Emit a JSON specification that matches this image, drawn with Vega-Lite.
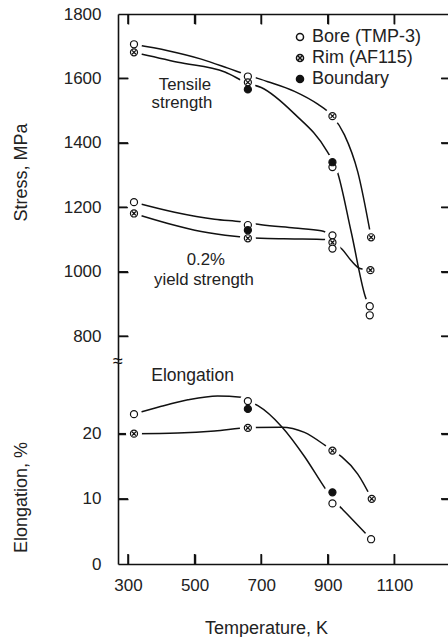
{
  "$schema": "https://vega.github.io/schema/vega-lite/v6.json",
  "padding": {"left": 11, "top": 5, "right": 0, "bottom": 0},
  "spacing": 0,
  "bounds": "flush",
  "config": {
    "font": "Liberation Sans",
    "view": {"stroke": null},
    "axis": {
      "grid": false,
      "domainColor": "#111",
      "domainWidth": 1.6,
      "tickColor": "#111",
      "tickWidth": 0,
      "tickSize": 0,
      "labelFont": "Liberation Sans",
      "labelFontSize": 17,
      "labelColor": "#222",
      "titleFont": "Liberation Sans",
      "titleFontSize": 18,
      "titleFontWeight": "normal",
      "titleColor": "#222"
    },
    "legend": {
      "labelFont": "Liberation Sans",
      "labelFontSize": 18,
      "labelColor": "#222",
      "symbolSize": 50,
      "rowPadding": 3,
      "labelOffset": 3,
      "padding": 0
    }
  },
  "datasets": {
    "ticks": [
      {"panel": "top", "edge": "top", "val": 300},
      {"panel": "top", "edge": "top", "val": 500},
      {"panel": "top", "edge": "top", "val": 700},
      {"panel": "top", "edge": "top", "val": 900},
      {"panel": "top", "edge": "top", "val": 1100},
      {"panel": "top", "edge": "side", "val": 800},
      {"panel": "top", "edge": "side", "val": 1000},
      {"panel": "top", "edge": "side", "val": 1200},
      {"panel": "top", "edge": "side", "val": 1400},
      {"panel": "top", "edge": "side", "val": 1600},
      {"panel": "bottom", "edge": "bottom", "val": 300},
      {"panel": "bottom", "edge": "bottom", "val": 500},
      {"panel": "bottom", "edge": "bottom", "val": 700},
      {"panel": "bottom", "edge": "bottom", "val": 900},
      {"panel": "bottom", "edge": "bottom", "val": 1100},
      {"panel": "bottom", "edge": "side", "val": 10},
      {"panel": "bottom", "edge": "side", "val": 20}
    ],
    "pts": [
      {"prop": "tensile", "mat": "Bore (TMP-3)", "T": 318, "v": 1706},
      {"prop": "tensile", "mat": "Rim (AF115)", "T": 318, "v": 1681},
      {"prop": "tensile", "mat": "Bore (TMP-3)", "T": 660, "v": 1606},
      {"prop": "tensile", "mat": "Rim (AF115)", "T": 660, "v": 1588},
      {"prop": "tensile", "mat": "Boundary", "T": 660, "v": 1566},
      {"prop": "tensile", "mat": "Rim (AF115)", "T": 914, "v": 1483},
      {"prop": "tensile", "mat": "Bore (TMP-3)", "T": 914, "v": 1325},
      {"prop": "tensile", "mat": "Boundary", "T": 914, "v": 1340},
      {"prop": "tensile", "mat": "Rim (AF115)", "T": 1030, "v": 1107},
      {"prop": "tensile", "mat": "Bore (TMP-3)", "T": 1026, "v": 893},
      {"prop": "yield", "mat": "Bore (TMP-3)", "T": 318, "v": 1216},
      {"prop": "yield", "mat": "Rim (AF115)", "T": 318, "v": 1181},
      {"prop": "yield", "mat": "Bore (TMP-3)", "T": 660, "v": 1145},
      {"prop": "yield", "mat": "Boundary", "T": 660, "v": 1129},
      {"prop": "yield", "mat": "Rim (AF115)", "T": 660, "v": 1104},
      {"prop": "yield", "mat": "Bore (TMP-3)", "T": 914, "v": 1113},
      {"prop": "yield", "mat": "Rim (AF115)", "T": 914, "v": 1091},
      {"prop": "yield", "mat": "Bore (TMP-3)", "T": 914, "v": 1072},
      {"prop": "yield", "mat": "Rim (AF115)", "T": 1028, "v": 1005},
      {"prop": "yield", "mat": "Bore (TMP-3)", "T": 1026, "v": 865},
      {"prop": "elong", "mat": "Bore (TMP-3)", "T": 318, "v": 23.0},
      {"prop": "elong", "mat": "Rim (AF115)", "T": 318, "v": 20.0},
      {"prop": "elong", "mat": "Bore (TMP-3)", "T": 660, "v": 25.0},
      {"prop": "elong", "mat": "Boundary", "T": 660, "v": 23.8},
      {"prop": "elong", "mat": "Rim (AF115)", "T": 660, "v": 20.9},
      {"prop": "elong", "mat": "Rim (AF115)", "T": 914, "v": 17.4},
      {"prop": "elong", "mat": "Boundary", "T": 914, "v": 11.0},
      {"prop": "elong", "mat": "Bore (TMP-3)", "T": 914, "v": 9.3},
      {"prop": "elong", "mat": "Rim (AF115)", "T": 1032, "v": 10.0},
      {"prop": "elong", "mat": "Bore (TMP-3)", "T": 1030, "v": 3.8}
    ],
    "curves": [
      {"prop": "tensile", "curve": "tu", "T": 318, "v": 1706},
      {"prop": "tensile", "curve": "tu", "T": 420, "v": 1686},
      {"prop": "tensile", "curve": "tu", "T": 520, "v": 1660},
      {"prop": "tensile", "curve": "tu", "T": 600, "v": 1632},
      {"prop": "tensile", "curve": "tu", "T": 660, "v": 1610},
      {"prop": "tensile", "curve": "tu", "T": 720, "v": 1590},
      {"prop": "tensile", "curve": "tu", "T": 800, "v": 1560},
      {"prop": "tensile", "curve": "tu", "T": 870, "v": 1520},
      {"prop": "tensile", "curve": "tu", "T": 914, "v": 1483},
      {"prop": "tensile", "curve": "tu", "T": 950, "v": 1425},
      {"prop": "tensile", "curve": "tu", "T": 990, "v": 1310},
      {"prop": "tensile", "curve": "tu", "T": 1030, "v": 1107},
      {"prop": "tensile", "curve": "tl", "T": 318, "v": 1681},
      {"prop": "tensile", "curve": "tl", "T": 450, "v": 1650},
      {"prop": "tensile", "curve": "tl", "T": 591, "v": 1620},
      {"prop": "tensile", "curve": "tl", "T": 660, "v": 1585},
      {"prop": "tensile", "curve": "tl", "T": 700, "v": 1572},
      {"prop": "tensile", "curve": "tl", "T": 800, "v": 1490},
      {"prop": "tensile", "curve": "tl", "T": 897, "v": 1375},
      {"prop": "tensile", "curve": "tl", "T": 928, "v": 1313},
      {"prop": "tensile", "curve": "tl", "T": 970, "v": 1125},
      {"prop": "tensile", "curve": "tl", "T": 1012, "v": 925},
      {"prop": "tensile", "curve": "tl", "T": 1028, "v": 880},
      {"prop": "yield", "curve": "yu", "T": 318, "v": 1216},
      {"prop": "yield", "curve": "yu", "T": 440, "v": 1185},
      {"prop": "yield", "curve": "yu", "T": 560, "v": 1163},
      {"prop": "yield", "curve": "yu", "T": 640, "v": 1155},
      {"prop": "yield", "curve": "yu", "T": 700, "v": 1146},
      {"prop": "yield", "curve": "yu", "T": 800, "v": 1136},
      {"prop": "yield", "curve": "yu", "T": 880, "v": 1127},
      {"prop": "yield", "curve": "yu", "T": 914, "v": 1113},
      {"prop": "yield", "curve": "yl", "T": 318, "v": 1181},
      {"prop": "yield", "curve": "yl", "T": 420, "v": 1150},
      {"prop": "yield", "curve": "yl", "T": 520, "v": 1125},
      {"prop": "yield", "curve": "yl", "T": 620, "v": 1110},
      {"prop": "yield", "curve": "yl", "T": 660, "v": 1106},
      {"prop": "yield", "curve": "yl", "T": 720, "v": 1103},
      {"prop": "yield", "curve": "yl", "T": 800, "v": 1102},
      {"prop": "yield", "curve": "yl", "T": 898, "v": 1100},
      {"prop": "yield", "curve": "yl", "T": 914, "v": 1092},
      {"prop": "yield", "curve": "yl", "T": 943, "v": 1070},
      {"prop": "yield", "curve": "yl", "T": 970, "v": 1035},
      {"prop": "yield", "curve": "yl", "T": 997, "v": 1010},
      {"prop": "yield", "curve": "yl", "T": 1030, "v": 1005},
      {"prop": "elong", "curve": "eb", "T": 318, "v": 23.0},
      {"prop": "elong", "curve": "eb", "T": 400, "v": 24.2},
      {"prop": "elong", "curve": "eb", "T": 480, "v": 25.2},
      {"prop": "elong", "curve": "eb", "T": 569, "v": 25.8},
      {"prop": "elong", "curve": "eb", "T": 640, "v": 25.6},
      {"prop": "elong", "curve": "eb", "T": 660, "v": 25.0},
      {"prop": "elong", "curve": "eb", "T": 690, "v": 24.3},
      {"prop": "elong", "curve": "eb", "T": 763, "v": 21.0},
      {"prop": "elong", "curve": "eb", "T": 830, "v": 16.5},
      {"prop": "elong", "curve": "eb", "T": 892, "v": 11.6},
      {"prop": "elong", "curve": "eb", "T": 914, "v": 10.0},
      {"prop": "elong", "curve": "eb", "T": 946, "v": 8.3},
      {"prop": "elong", "curve": "eb", "T": 1006, "v": 5.1},
      {"prop": "elong", "curve": "eb", "T": 1030, "v": 3.8},
      {"prop": "elong", "curve": "er", "T": 318, "v": 20.0},
      {"prop": "elong", "curve": "er", "T": 450, "v": 20.1},
      {"prop": "elong", "curve": "er", "T": 560, "v": 20.4},
      {"prop": "elong", "curve": "er", "T": 660, "v": 20.9},
      {"prop": "elong", "curve": "er", "T": 760, "v": 21.0},
      {"prop": "elong", "curve": "er", "T": 830, "v": 20.2},
      {"prop": "elong", "curve": "er", "T": 892, "v": 18.2},
      {"prop": "elong", "curve": "er", "T": 914, "v": 17.4},
      {"prop": "elong", "curve": "er", "T": 943, "v": 16.4},
      {"prop": "elong", "curve": "er", "T": 990, "v": 13.8},
      {"prop": "elong", "curve": "er", "T": 1032, "v": 10.0}
    ],
    "notes": [
      {"panel": "top", "t": "Tensile", "T": 471, "v": 1564},
      {"panel": "top", "t": "strength", "T": 462, "v": 1508},
      {"panel": "top", "t": "0.2%", "T": 534, "v": 1020},
      {"panel": "top", "t": "yield strength", "T": 528, "v": 958},
      {"panel": "bottom", "t": "Elongation", "T": 494, "v": 28.1}
    ]
  },
  "resolve": {
    "scale": {"y": "independent", "shape": "independent", "fill": "independent"},
    "legend": {"shape": "independent", "fill": "independent"}
  },
  "vconcat": [
    {
      "width": 333,
      "height": 348,
      "resolve": {"axis": {"x": "independent", "y": "independent"}},
      "layer": [
        {
          "data": {"name": "curves"},
          "transform": [{"filter": "datum.prop !== 'elong'"}],
          "mark": {"type": "line", "interpolate": "monotone", "stroke": "#111", "strokeWidth": 1.5},
          "encoding": {
            "x": {"field": "T", "type": "quantitative", "scale": {"domain": [270, 1270], "nice": false, "zero": false},
                  "axis": {"orient": "top", "labels": false, "ticks": false, "title": null}},
            "y": {"field": "v", "type": "quantitative", "scale": {"domain": [720, 1800], "nice": false, "zero": false},
                  "axis": {"orient": "left", "values": [800, 1000, 1200, 1400, 1600, 1800], "format": "d", "labelPadding": 17,
                           "title": "Stress, MPa", "titleX": -92, "titleY": 158, "titleAngle": -90,
                           "titleBaseline": "alphabetic", "titleAlign": "center"}},
            "detail": {"field": "curve", "type": "nominal"}
          }
        },
        {
          "data": {"name": "ticks"},
          "transform": [{"filter": "datum.panel === 'top' && datum.edge === 'top'"}],
          "mark": {"type": "rule", "color": "#111", "strokeWidth": 1.5, "y2Offset": 10},
          "encoding": {
            "x": {"field": "val", "type": "quantitative", "axis": null},
            "y": {"datum": 1800, "type": "quantitative", "axis": null},
            "y2": {"datum": 1800}
          }
        },
        {
          "data": {"name": "ticks"},
          "transform": [{"filter": "datum.panel === 'top' && datum.edge === 'side'"}],
          "mark": {"type": "rule", "color": "#111", "strokeWidth": 1.5, "x2Offset": 10},
          "encoding": {
            "y": {"field": "val", "type": "quantitative", "axis": null},
            "x": {"datum": 270, "type": "quantitative", "axis": null},
            "x2": {"datum": 270}
          }
        },
        {
          "data": {"name": "ticks"},
          "transform": [{"filter": "datum.panel === 'top' && datum.edge === 'side'"}],
          "mark": {"type": "rule", "color": "#111", "strokeWidth": 1.5, "x2Offset": -10},
          "encoding": {
            "y": {"field": "val", "type": "quantitative", "axis": null},
            "x": {"datum": 1270, "type": "quantitative", "axis": null},
            "x2": {"datum": 1270}
          }
        },
        {
          "data": {"name": "pts"},
          "transform": [{"filter": "datum.prop !== 'elong'"}],
          "mark": {"type": "point", "shape": "M-1,0A1,1,0,1,1,1,0A1,1,0,1,1,-1,0Z", "filled": true, "fill": "white", "opacity": 1, "size": 256, "strokeWidth": 0},
          "encoding": {
            "x": {"field": "T", "type": "quantitative",
                  "axis": {"orient": "top", "offset": -10, "domain": false, "labelExpr": "''", "labelFontSize": 1, "labelPadding": -22, "title": null,
                           "ticks": true, "tickSize": 10, "tickWidth": 1.5, "values": [300, 500, 700, 900, 1100]}},
            "y": {"field": "v", "type": "quantitative",
                  "axis": {"orient": "right", "offset": -10, "domain": false, "labelExpr": "''", "labelFontSize": 1, "labelPadding": -22, "title": null,
                           "ticks": true, "tickSize": 10, "tickWidth": 1.5, "values": [800, 1000, 1200, 1400, 1600]}}
          }
        },
        {
          "data": {"name": "pts"},
          "transform": [{"filter": "datum.prop !== 'elong'"}],
          "mark": {"type": "point", "filled": true, "opacity": 1, "size": 50, "stroke": "#111", "strokeWidth": 1.2},
          "encoding": {
            "x": {"field": "T", "type": "quantitative", "axis": null},
            "y": {"field": "v", "type": "quantitative",
                  "axis": {"orient": "left", "offset": -10, "domain": false, "labelExpr": "''", "labelFontSize": 1, "labelPadding": -22, "title": null,
                           "ticks": true, "tickSize": 10, "tickWidth": 1.5, "values": [800, 1000, 1200, 1400, 1600]}},
            "shape": {"field": "mat", "type": "nominal",
                      "scale": {"domain": ["Bore (TMP-3)", "Rim (AF115)", "Boundary"],
                                "range": ["M-1,0A1,1,0,1,1,1,0A1,1,0,1,1,-1,0Z", "M-1,0A1,1,0,1,1,1,0A1,1,0,1,1,-1,0ZM-0.55,-0.55L0.55,0.55M-0.55,0.55L0.55,-0.55", "M-1,0A1,1,0,1,1,1,0A1,1,0,1,1,-1,0Z"]},
                      "legend": {"orient": "none", "legendX": 173, "legendY": 14, "title": null,
                                 "encode": {"symbols": {"stroke": {"value": "#111"}, "strokeWidth": {"value": 1.2}}}}},
            "fill": {"field": "mat", "type": "nominal",
                     "scale": {"domain": ["Bore (TMP-3)", "Rim (AF115)", "Boundary"], "range": ["white", "white", "#111"]},
                     "legend": {"orient": "none", "legendX": 173, "legendY": 14, "title": null,
                                "encode": {"symbols": {"stroke": {"value": "#111"}, "strokeWidth": {"value": 1.2}}}}}
          }
        },
        {
          "data": {"name": "notes"},
          "transform": [{"filter": "datum.panel === 'top'"}],
          "mark": {"type": "text", "align": "center", "baseline": "alphabetic", "fontSize": 16.8, "font": "Liberation Sans", "color": "#222"},
          "encoding": {
            "x": {"field": "T", "type": "quantitative", "axis": null},
            "y": {"field": "v", "type": "quantitative", "axis": null},
            "text": {"field": "t", "type": "nominal"}
          }
        }
      ]
    },
    {
      "width": 333,
      "height": 202,
      "resolve": {"axis": {"x": "independent", "y": "independent"}},
      "layer": [
        {
          "data": {"name": "curves"},
          "transform": [{"filter": "datum.prop === 'elong'"}],
          "mark": {"type": "line", "interpolate": "monotone", "stroke": "#111", "strokeWidth": 1.5},
          "encoding": {
            "x": {"field": "T", "type": "quantitative", "scale": {"domain": [270, 1270], "nice": false, "zero": false},
                  "axis": {"orient": "bottom", "values": [300, 500, 700, 900, 1100], "format": "d", "labelPadding": 13,
                           "title": "Temperature, K", "titleX": 148, "titleY": 69, "titleBaseline": "alphabetic", "titleAlign": "center"}},
            "y": {"field": "v", "type": "quantitative", "scale": {"domain": [0, 31], "nice": false, "zero": false},
                  "axis": {"orient": "left", "values": [0, 10, 20], "format": "d", "labelPadding": 17,
                           "title": "Elongation, %", "titleX": -92, "titleY": 135, "titleAngle": -90,
                           "titleBaseline": "alphabetic", "titleAlign": "center"}},
            "detail": {"field": "curve", "type": "nominal"}
          }
        },
        {
          "data": {"name": "ticks"},
          "transform": [{"filter": "datum.panel === 'bottom' && datum.edge === 'bottom'"}],
          "mark": {"type": "rule", "color": "#111", "strokeWidth": 1.5, "y2Offset": -10},
          "encoding": {
            "x": {"field": "val", "type": "quantitative", "axis": null},
            "y": {"datum": 0, "type": "quantitative", "axis": null},
            "y2": {"datum": 0}
          }
        },
        {
          "data": {"name": "ticks"},
          "transform": [{"filter": "datum.panel === 'bottom' && datum.edge === 'side'"}],
          "mark": {"type": "rule", "color": "#111", "strokeWidth": 1.5, "x2Offset": 10},
          "encoding": {
            "y": {"field": "val", "type": "quantitative", "axis": null},
            "x": {"datum": 270, "type": "quantitative", "axis": null},
            "x2": {"datum": 270}
          }
        },
        {
          "data": {"name": "ticks"},
          "transform": [{"filter": "datum.panel === 'bottom' && datum.edge === 'side'"}],
          "mark": {"type": "rule", "color": "#111", "strokeWidth": 1.5, "x2Offset": -10},
          "encoding": {
            "y": {"field": "val", "type": "quantitative", "axis": null},
            "x": {"datum": 1270, "type": "quantitative", "axis": null},
            "x2": {"datum": 1270}
          }
        },
        {
          "data": {"name": "pts"},
          "transform": [{"filter": "datum.prop === 'elong'"}],
          "mark": {"type": "point", "shape": "M-1,0A1,1,0,1,1,1,0A1,1,0,1,1,-1,0Z", "filled": true, "fill": "white", "opacity": 1, "size": 256, "strokeWidth": 0},
          "encoding": {
            "x": {"field": "T", "type": "quantitative",
                  "axis": {"orient": "bottom", "offset": -10, "domain": false, "labelExpr": "''", "labelFontSize": 1, "labelPadding": -22, "title": null,
                           "ticks": true, "tickSize": 10, "tickWidth": 1.5, "values": [300, 500, 700, 900, 1100]}},
            "y": {"field": "v", "type": "quantitative",
                  "axis": {"orient": "right", "offset": -10, "domain": false, "labelExpr": "''", "labelFontSize": 1, "labelPadding": -22, "title": null,
                           "ticks": true, "tickSize": 10, "tickWidth": 1.5, "values": [10, 20]}}
          }
        },
        {
          "data": {"name": "pts"},
          "transform": [{"filter": "datum.prop === 'elong'"}],
          "mark": {"type": "point", "filled": true, "opacity": 1, "size": 50, "stroke": "#111", "strokeWidth": 1.2},
          "encoding": {
            "x": {"field": "T", "type": "quantitative", "axis": null},
            "y": {"field": "v", "type": "quantitative",
                  "axis": {"orient": "left", "offset": -10, "domain": false, "labelExpr": "''", "labelFontSize": 1, "labelPadding": -22, "title": null,
                           "ticks": true, "tickSize": 10, "tickWidth": 1.5, "values": [10, 20]}},
            "shape": {"field": "mat", "type": "nominal",
                      "scale": {"domain": ["Bore (TMP-3)", "Rim (AF115)", "Boundary"],
                                "range": ["M-1,0A1,1,0,1,1,1,0A1,1,0,1,1,-1,0Z", "M-1,0A1,1,0,1,1,1,0A1,1,0,1,1,-1,0ZM-0.55,-0.55L0.55,0.55M-0.55,0.55L0.55,-0.55", "M-1,0A1,1,0,1,1,1,0A1,1,0,1,1,-1,0Z"]},
                      "legend": null},
            "fill": {"field": "mat", "type": "nominal",
                     "scale": {"domain": ["Bore (TMP-3)", "Rim (AF115)", "Boundary"], "range": ["white", "white", "#111"]},
                     "legend": null}
          }
        },
        {
          "data": {"name": "notes"},
          "transform": [{"filter": "datum.panel === 'bottom'"}],
          "mark": {"type": "text", "align": "center", "baseline": "alphabetic", "fontSize": 17.5, "font": "Liberation Sans", "color": "#222"},
          "encoding": {
            "x": {"field": "T", "type": "quantitative", "axis": null},
            "y": {"field": "v", "type": "quantitative", "axis": null},
            "text": {"field": "t", "type": "nominal"}
          }
        },
        {
          "data": {"values": [{}]},
          "mark": {"type": "text", "text": "≈", "align": "center", "baseline": "middle", "fontSize": 18, "color": "#111"},
          "encoding": {
            "x": {"datum": 270, "type": "quantitative", "axis": null},
            "y": {"datum": 31, "type": "quantitative", "axis": null}
          }
        }
      ]
    }
  ]
}
